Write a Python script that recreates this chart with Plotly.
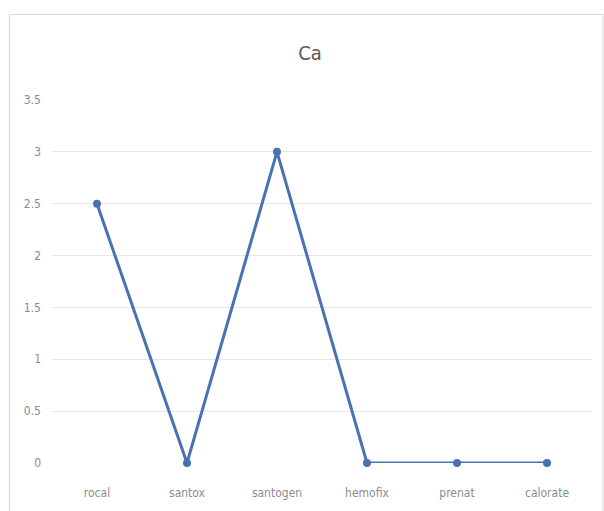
import plotly.graph_objects as go

categories = ["rocal", "santox", "santogen", "hemofix", "prenat", "calorate"]
values = [2.5, 0, 3, 0, 0, 0]
y_ticks = [0, 0.5, 1, 1.5, 2, 2.5, 3, 3.5]
y_tick_labels = ["0", "0.5", "1", "1.5", "2", "2.5", "3", "3.5"]

W, H = 604, 511
L, R, T, B = 52, 12, 100, 48
pw, ph = W - L - R, H - T - B

def px(x):
    return (x - L) / pw

def py(y):
    return (H - B - y) / ph

font_family = "Liberation Sans Narrow, DejaVu Sans Condensed, Arial Narrow, sans-serif"

fig = go.Figure()
fig.add_trace(go.Scatter(
    x=categories, y=values, mode="lines+markers",
    line=dict(color="#4a72b0", width=3),
    marker=dict(color="#4a72b0", size=8),
    cliponaxis=False, showlegend=False,
))

fig.update_layout(
    width=W, height=H,
    margin=dict(l=L, r=R, t=T, b=B),
    paper_bgcolor="white", plot_bgcolor="white",
    title=dict(text="Ca", x=px(310), xref="paper", xanchor="center",
               y=1 - 53 / H, yanchor="middle",
               font=dict(family=font_family, size=20, color="#595959")),
    font=dict(family=font_family, size=12, color="#8c8c8c"),
    xaxis=dict(type="category", range=[-0.5, len(categories) - 0.5],
               showgrid=False, zeroline=False, showline=False,
               ticks="", tickfont=dict(size=12, color="#8c8c8c"), ticklabelstandoff=21,
               fixedrange=True),
    yaxis=dict(range=[0, 3.5], tickvals=y_ticks, ticktext=y_tick_labels,
               showgrid=True, gridcolor="#e6e6e6", gridwidth=1, zeroline=False,
               showline=False, ticks="", tickfont=dict(size=12, color="#8c8c8c"),
               ticklabelstandoff=10, fixedrange=True),
    shapes=[dict(type="rect", xref="paper", yref="paper",
                 x0=px(9.5), x1=px(603), y0=py(530), y1=py(14.5),
                 line=dict(color="#d9d9d9", width=1.2), fillcolor="rgba(0,0,0,0)",
                 layer="below")],
)

fig.write_html("out.html", config={"displayModeBar": False},
               post_script="document.body.style.margin='0';document.body.style.overflow='hidden';")
